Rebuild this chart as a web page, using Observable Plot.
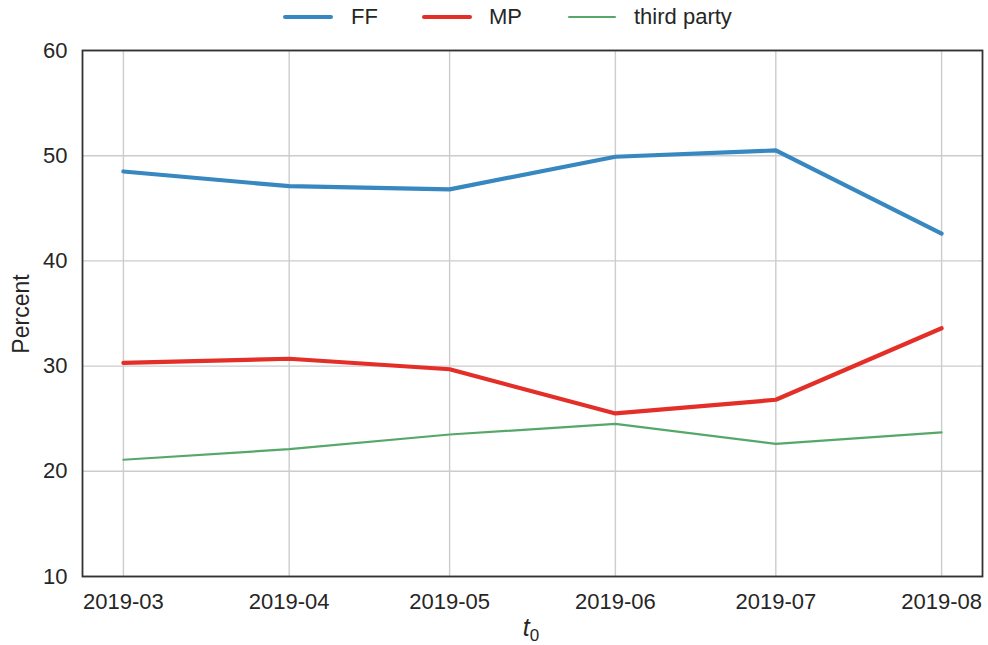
<!DOCTYPE html>
<html>
<head>
<meta charset="utf-8">
<script src="https://cdn.jsdelivr.net/npm/d3@7"></script>
<script src="https://cdn.jsdelivr.net/npm/@observablehq/plot@0.6"></script>
<style>
  html, body { margin: 0; padding: 0; background: #fff; }
  #wrap { position: relative; width: 988px; height: 645px; font-family: "Liberation Sans", Arial, sans-serif; color: #262626; }
  #legend { position: absolute; top: 0; left: 0; width: 988px; height: 40px; }
  .lg { position: absolute; top: 4px; font-size: 22px; line-height: 26px; white-space: nowrap; }
  .sw { position: absolute; top: 17px; height: 0; border-top-style: solid; border-radius: 3px; }
  #ylab { position: absolute; left: 21px; top: 314px; transform: translate(-50%, -50%) rotate(-90deg); font-size: 23px; white-space: nowrap; }
  #xlab { position: absolute; left: 531px; top: 629px; transform: translate(-50%, -50%); font-size: 25px; font-style: italic; white-space: nowrap; }
  #xlab sub { font-style: normal; font-size: 17px; vertical-align: -5px; }
</style>
</head>
<body>
<div id="wrap">
  <div id="chart"></div>
  <div id="legend"></div>
  <div id="ylab">Percent</div>
  <div id="xlab">t<sub>0</sub></div>
</div>
<script>
const months = ["2019-03", "2019-04", "2019-05", "2019-06", "2019-07", "2019-08"];
const ff    = [48.5, 47.1, 46.8, 49.9, 50.5, 42.6];
const mp    = [30.3, 30.7, 29.7, 25.5, 26.8, 33.6];
const third = [21.1, 22.1, 23.5, 24.5, 22.6, 23.7];
const seriesNames = ["FF", "MP", "third party"];
const seriesColors = ["#3787c0", "#e32f27", "#55a868"];
const seriesWidths = [4.2, 4.2, 2.2];
const yTicks = [10, 20, 30, 40, 50, 60];

const parse = d3.utcParse("%Y-%m");
const dates = months.map(parse);
const rows = [];
[ff, mp, third].forEach((vals, i) => {
  vals.forEach((v, j) => rows.push({series: seriesNames[i], date: dates[j], value: v}));
});

// matplotlib-style 5% margins on the time axis
const t0 = +dates[0], t1 = +dates[dates.length - 1];
const pad = (t1 - t0) * 0.05;
const xDomain = [new Date(t0 - pad), new Date(t1 + pad)];

const chart = Plot.plot({
  width: 988,
  height: 645,
  marginLeft: 82,
  marginRight: 6,
  marginTop: 50,
  marginBottom: 69,
  style: {fontFamily: '"Liberation Sans", Arial, sans-serif', fontSize: "22px", color: "#262626", background: "#fff"},
  x: {type: "utc", domain: xDomain, ticks: dates, tickFormat: d3.utcFormat("%Y-%m"), tickSize: 0, tickPadding: 17, label: null},
  y: {domain: [10, 60], ticks: yTicks, tickSize: 0, tickPadding: 15, label: null},
  marks: [
    Plot.gridX(dates, {x: d => d, stroke: "#cccccc", strokeOpacity: 1, strokeWidth: 1.4}),
    Plot.gridY(yTicks, {y: d => d, stroke: "#cccccc", strokeOpacity: 1, strokeWidth: 1.4}),
    ...seriesNames.map((name, i) =>
      Plot.line(rows.filter(r => r.series === name), {
        x: "date", y: "value",
        stroke: seriesColors[i], strokeWidth: seriesWidths[i],
        strokeLinecap: "round", strokeLinejoin: "round"
      })
    ),
    Plot.frame({stroke: "#333333", strokeWidth: 1.8})
  ]
});
document.getElementById("chart").appendChild(chart);

// legend
const legend = document.getElementById("legend");
const legendPos = [[283, 50, 351], [422, 50, 489], [568, 48, 634]];
seriesNames.forEach((name, i) => {
  const [x, w, tx] = legendPos[i];
  const sw = document.createElement("div");
  sw.className = "sw";
  sw.style.left = x + "px";
  sw.style.width = w + "px";
  sw.style.borderTopColor = seriesColors[i];
  sw.style.borderTopWidth = seriesWidths[i] + "px";
  sw.style.marginTop = (-seriesWidths[i] / 2) + "px";
  legend.appendChild(sw);
  const t = document.createElement("div");
  t.className = "lg";
  t.style.left = tx + "px";
  t.textContent = name;
  legend.appendChild(t);
});
</script>
</body>
</html>
